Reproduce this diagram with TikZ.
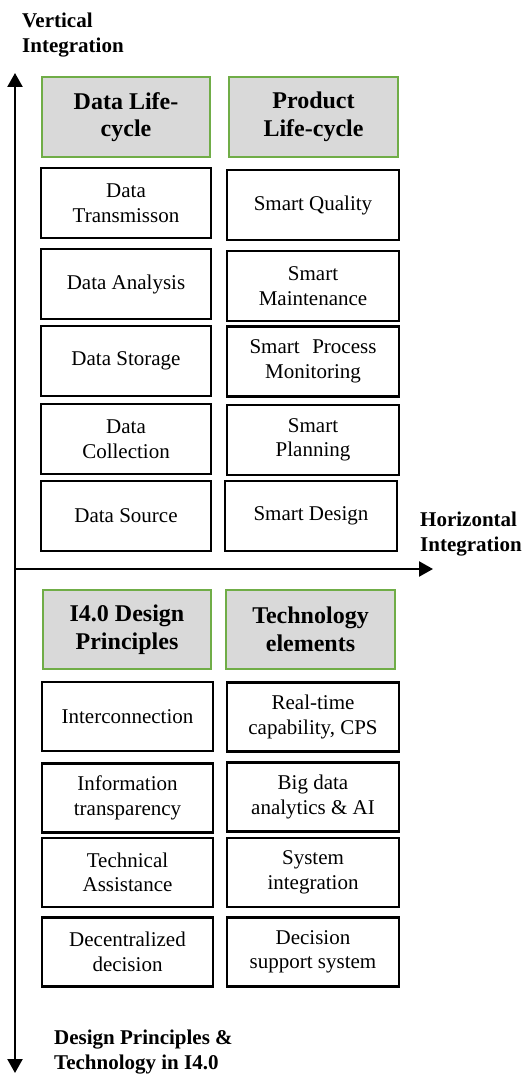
\documentclass[tikz,border=0pt]{standalone}
\usepackage{fontspec}
\setmainfont{Liberation Serif}
\usetikzlibrary{arrows.meta}
\definecolor{headgreen}{RGB}{112,173,71}
\definecolor{headgray}{RGB}{217,217,217}
\begin{document}
\begin{tikzpicture}[x=1pt,y=-1pt,
  item/.style={draw=black,line width=2.2pt,fill=white,rectangle,inner sep=0pt,
    align=center,font=\fontsize{21}{24.5}\selectfont},
  head/.style={draw=headgreen,line width=1.7pt,fill=headgray,rectangle,inner sep=0pt,
    align=center,font=\fontsize{24}{27.5}\selectfont\bfseries},
  axislabel/.style={anchor=west,align=left,inner sep=0pt,
    font=\fontsize{21}{25}\selectfont\bfseries},
  axis/.style={line width=2.4pt,-{Triangle[length=14pt,width=15pt]}}]
\useasboundingbox (0,0) rectangle (526,1075);

% axes
\coordinate (o) at (15,569);
\coordinate (vtip) at (15,73);
\coordinate (htip) at (433,569);
\coordinate (dtip) at (15,1073);
\draw[axis] (o) -- (vtip);
\draw[axis] (o) -- (htip);
\draw[axis] (o) -- (dtip);

\node[axislabel] (vlab) at (22,35) {Vertical\\Integration};
\node[axislabel] (hlab) at (420,534) {Horizontal\\Integration};
\node[axislabel] (dlab) at (54,1052) {Design Principles \&\\Technology in I4.0};

% life-cycle columns
\node[head,minimum width=168,minimum height=80] (dlc) at (126,117) {Data Life-\\cycle};
\node[head,minimum width=169,minimum height=80] (plc) at (313.5,117) {Product\\Life-cycle};

\node[item,minimum width=170,minimum height=70] (d1) at (126,203) {Data\\Transmisson};
\node[item,minimum width=170,minimum height=70] (d2) at (126,284) {Data Analysis};
\node[item,minimum width=170,minimum height=70] (d3) at (126,361) {Data Storage};
\node[item,minimum width=170,minimum height=70] (d4) at (126,439) {Data\\Collection};
\node[item,minimum width=170,minimum height=70] (d5) at (126,516) {Data Source};

\node[item,minimum width=172,minimum height=70] (p1) at (313,205) {Smart Quality};
\node[item,minimum width=172,minimum height=70] (p2) at (313,286) {Smart\\Maintenance};
\node[item,minimum width=172,minimum height=70] (p3) at (313,361.5) {Smart\hspace{0.6em}Process\\Monitoring};
\node[item,minimum width=172,minimum height=70] (p4) at (313,440) {Smart\\Planning};
\node[item,minimum width=172,minimum height=70] (p5) at (311,516) {Smart Design};

% design principles and technology columns
\node[head,minimum width=168,minimum height=79] (dp) at (127,629.5) {I4.0 Design\\Principles};
\node[head,minimum width=169,minimum height=79] (te) at (310.5,629.5) {Technology\\elements};

\node[item,minimum width=171,minimum height=69] (q1) at (127.5,716.5) {Interconnection};
\node[item,minimum width=171,minimum height=69] (q2) at (127.5,798) {Information\\transparency};
\node[item,minimum width=171,minimum height=69] (q3) at (127.5,872.5) {Technical\\Assistance};
\node[item,minimum width=171,minimum height=69] (q4) at (127.5,952) {Decentralized\\decision};

\node[item,minimum width=172,minimum height=69] (t1) at (313,717) {Real-time\\capability, CPS};
\node[item,minimum width=172,minimum height=69] (t2) at (313,797) {Big data\\analytics \& AI};
\node[item,minimum width=172,minimum height=69] (t3) at (313,872.5) {System\\integration};
\node[item,minimum width=172,minimum height=69] (t4) at (313,952) {Decision\\support system};
\end{tikzpicture}
\end{document}
